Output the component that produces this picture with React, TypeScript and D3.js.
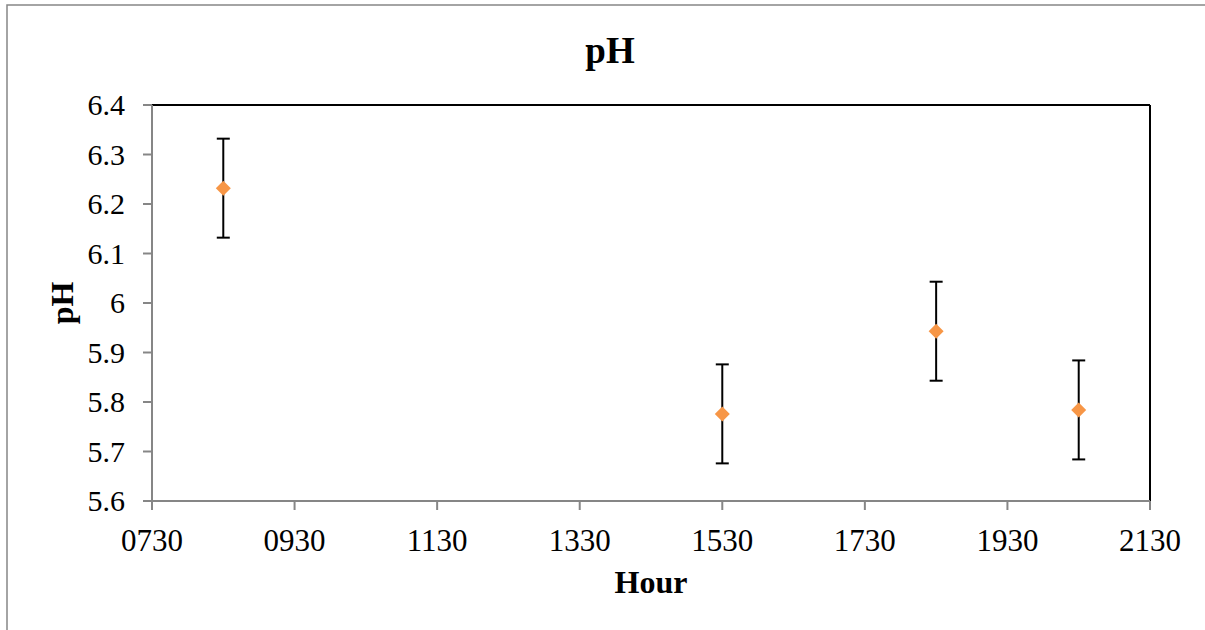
import React from 'react';
import * as d3 from 'd3';

// hour of day (hhmm), mean pH and error
const hours = [830, 1530, 1830, 2030];
const phValues = [6.232, 5.776, 5.943, 5.784];
const phErrors = [0.1, 0.1, 0.1, 0.1];
const xTicks = [730, 930, 1130, 1330, 1530, 1730, 1930, 2130];
const yTicks = [5.6, 5.7, 5.8, 5.9, 6.0, 6.1, 6.2, 6.3, 6.4];

const W = 1205;
const H = 630;
const plot = { left: 152, right: 1150, top: 105, bottom: 501 };
const font = '"Liberation Serif", "Times New Roman", serif';
const axisGray = '#868686';
const orange = '#F79646';

const fmtHour = (h: number) => String(h).padStart(4, '0');
const fmtPh = (v: number) => (Math.abs(v - 6) < 1e-9 ? '6' : v.toFixed(1));

const App = () => {
  const x = d3.scaleLinear().domain([730, 2130]).range([plot.left, plot.right]);
  const y = d3.scaleLinear().domain([5.6, 6.4]).range([plot.bottom, plot.top]);
  const points = hours.map((h, i) => ({ h, v: phValues[i], e: phErrors[i] }));
  const d = 7.5; // diamond half size
  const cap = 6.5;

  return (
    <div style={{ position: 'absolute', left: 0, top: 0 }}>
      <svg width={W} height={H} style={{ display: 'block', background: '#fff' }}>
        {/* chart frame */}
        <rect x={7} y={5} width={W + 50} height={H + 50} fill="#fff" stroke={axisGray} strokeWidth={1.5} />

        <text x={610} y={63} textAnchor="middle" fontFamily={font} fontWeight="bold" fontSize={37}>pH</text>

        {/* top and right frame of plot area */}
        <line x1={plot.left} x2={plot.right} y1={plot.top} y2={plot.top} stroke="#000" strokeWidth={2} />
        <line x1={plot.right} x2={plot.right} y1={plot.top} y2={plot.bottom} stroke="#000" strokeWidth={2} />

        {/* y axis */}
        <line x1={plot.left} x2={plot.left} y1={plot.top} y2={plot.bottom} stroke={axisGray} strokeWidth={2} />
        {yTicks.map(t => (
          <g key={t}>
            <line x1={plot.left - 9} x2={plot.left} y1={y(t)} y2={y(t)} stroke={axisGray} strokeWidth={2} />
            <text x={plot.left - 27} y={y(t)} dy="0.34em" textAnchor="end" fontFamily={font} fontSize={30}>{fmtPh(t)}</text>
          </g>
        ))}

        {/* x axis */}
        <line x1={plot.left} x2={plot.right} y1={plot.bottom} y2={plot.bottom} stroke={axisGray} strokeWidth={2} />
        {xTicks.map(t => (
          <g key={t}>
            <line x1={x(t)} x2={x(t)} y1={plot.bottom} y2={plot.bottom + 9} stroke={axisGray} strokeWidth={2} />
            <text x={x(t)} y={551} textAnchor="middle" fontFamily={font} fontSize={31}>{fmtHour(t)}</text>
          </g>
        ))}

        <text x={651} y={593} textAnchor="middle" fontFamily={font} fontWeight="bold" fontSize={32}>Hour</text>
        <text transform={`translate(73, ${(plot.top + plot.bottom) / 2}) rotate(-90)`} textAnchor="middle" fontFamily={font} fontWeight="bold" fontSize={32}>pH</text>

        {/* error bars */}
        {points.map(p => (
          <g key={'e' + p.h} stroke="#000" strokeWidth={2}>
            <line x1={x(p.h)} x2={x(p.h)} y1={y(p.v + p.e)} y2={y(p.v - p.e)} />
            <line x1={x(p.h) - cap} x2={x(p.h) + cap} y1={y(p.v + p.e)} y2={y(p.v + p.e)} />
            <line x1={x(p.h) - cap} x2={x(p.h) + cap} y1={y(p.v - p.e)} y2={y(p.v - p.e)} />
          </g>
        ))}

        {/* markers */}
        {points.map(p => {
          const cx = x(p.h);
          const cy = y(p.v);
          return (
            <path key={'m' + p.h} d={`M${cx},${cy - d}L${cx + d},${cy}L${cx},${cy + d}L${cx - d},${cy}Z`} fill={orange} />
          );
        })}
      </svg>
    </div>
  );
};

export default App;
